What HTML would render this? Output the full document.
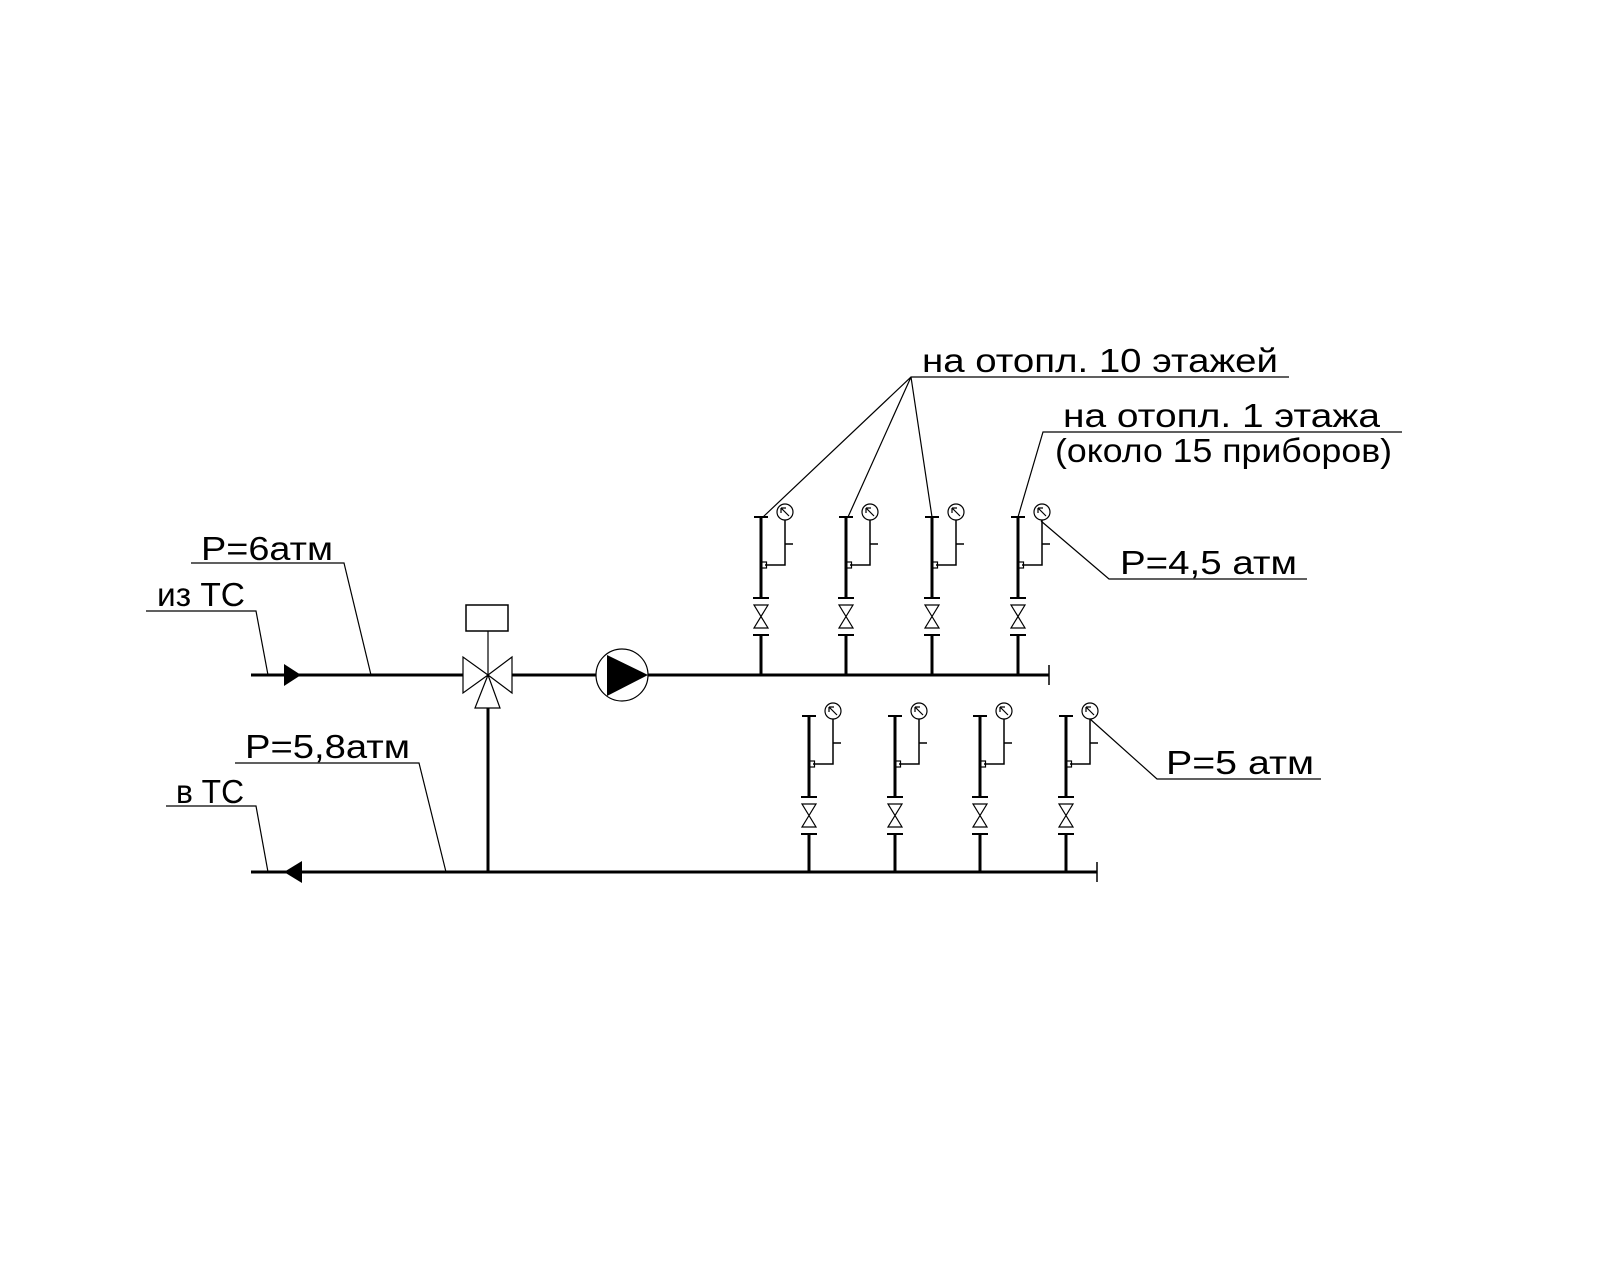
<!DOCTYPE html>
<html><head><meta charset="utf-8"><style>
html,body{margin:0;padding:0;background:#fff;}
svg{display:block;}
text{font-family:"Liberation Sans",sans-serif;font-size:33px;font-weight:normal;fill:#000;}
</style></head><body>
<svg width="1600" height="1280" viewBox="0 0 1600 1280" xmlns="http://www.w3.org/2000/svg">
<defs>
<g id="r" fill="none" stroke="#000">
  <line x1="0" y1="0" x2="0" y2="81" stroke-width="3"/>
  <line x1="-7" y1="0" x2="7" y2="0" stroke-width="2"/>
  <line x1="-8" y1="81" x2="8" y2="81" stroke-width="2"/>
  <line x1="-8" y1="118" x2="8" y2="118" stroke-width="2"/>
  <path d="M-7 88 L7 88 L-7 111 L7 111 Z" stroke-width="1.2"/>
  <circle cx="24" cy="-5" r="8" stroke-width="1.2"/>
  <path d="M28 -1 L20 -9 M20 -9 L20 -4 M20 -9 L25 -9" stroke-width="1.2"/>
  <path d="M24 3 L24 48 L4 48" stroke-width="1.5"/>
  <rect x="0.5" y="45" width="5" height="6" stroke-width="1.2"/>
  <line x1="24" y1="27" x2="32" y2="27" stroke-width="1.5"/>
</g>
</defs>
<g fill="none" stroke="#000">
  <line x1="251" y1="675" x2="463" y2="675" stroke-width="3"/>
  <line x1="512" y1="675" x2="1049" y2="675" stroke-width="3"/>
  <line x1="1049" y1="665" x2="1049" y2="685" stroke-width="1.5"/>
  <line x1="251" y1="872" x2="1097" y2="872" stroke-width="3"/>
  <line x1="1097" y1="862" x2="1097" y2="882" stroke-width="1.5"/>
  <line x1="488" y1="708" x2="488" y2="872" stroke-width="3"/>
  <path d="M463 657 L463 693 L488 675 Z M512 657 L512 693 L488 675 Z M488 675 L475 708 L500 708 Z" stroke-width="1.2" fill="#fff"/>
  <line x1="488" y1="631" x2="488" y2="675" stroke-width="1.2"/>
  <rect x="466" y="605" width="42" height="26" stroke-width="1.5"/>
  <circle cx="622" cy="675" r="26" stroke-width="1.2" fill="#fff"/>
  <g stroke-width="1.2">
    <path d="M191 563 L344 563 L371 675"/>
    <path d="M146 611 L256 611 L268 675"/>
    <path d="M235 763 L419 763 L446 872"/>
    <path d="M166 806 L256 806 L268 872"/>
    <path d="M1289 377 L911 377 L763 517 M911 377 L848 517 M911 377 L932 517"/>
    <path d="M1402 432 L1043 432 L1018 517"/>
    <path d="M1041 521 L1109 579 L1307 579"/>
    <path d="M1090 719 L1157 779 L1321 779"/>
  </g>
</g>
<path d="M607 655 L648 675 L607 696 Z" fill="#000"/>
<path d="M284 664 L301 675 L284 686 Z" fill="#000"/>
<path d="M302 861 L284 872 L302 883 Z" fill="#000"/>
<use href="#r" x="761" y="517"/>
<use href="#r" x="846" y="517"/>
<use href="#r" x="932" y="517"/>
<use href="#r" x="1018" y="517"/>
<g stroke="#000" stroke-width="3">
  <line x1="761" y1="635" x2="761" y2="675"/><line x1="846" y1="635" x2="846" y2="675"/>
  <line x1="932" y1="635" x2="932" y2="675"/><line x1="1018" y1="635" x2="1018" y2="675"/>
</g>
<use href="#r" x="809" y="716"/>
<use href="#r" x="895" y="716"/>
<use href="#r" x="980" y="716"/>
<use href="#r" x="1066" y="716"/>
<g stroke="#000" stroke-width="3">
  <line x1="809" y1="834" x2="809" y2="872"/><line x1="895" y1="834" x2="895" y2="872"/>
  <line x1="980" y1="834" x2="980" y2="872"/><line x1="1066" y1="834" x2="1066" y2="872"/>
</g>
<text x="201" y="560" textLength="132" lengthAdjust="spacingAndGlyphs">P=6атм</text>
<text x="157" y="606" textLength="88" lengthAdjust="spacingAndGlyphs">из ТС</text>
<text x="245" y="758" textLength="165" lengthAdjust="spacingAndGlyphs">P=5,8атм</text>
<text x="176" y="803" textLength="68" lengthAdjust="spacingAndGlyphs">в ТС</text>
<text x="922" y="372" textLength="356" lengthAdjust="spacingAndGlyphs">на отопл. 10 этажей</text>
<text x="1063" y="427" textLength="317" lengthAdjust="spacingAndGlyphs">на отопл. 1 этажа</text>
<text x="1055" y="462" textLength="337" lengthAdjust="spacingAndGlyphs">(около 15 приборов)</text>
<text x="1120" y="574" textLength="177" lengthAdjust="spacingAndGlyphs">P=4,5 атм</text>
<text x="1166" y="774" textLength="148" lengthAdjust="spacingAndGlyphs">P=5 атм</text>
</svg>
</body></html>
